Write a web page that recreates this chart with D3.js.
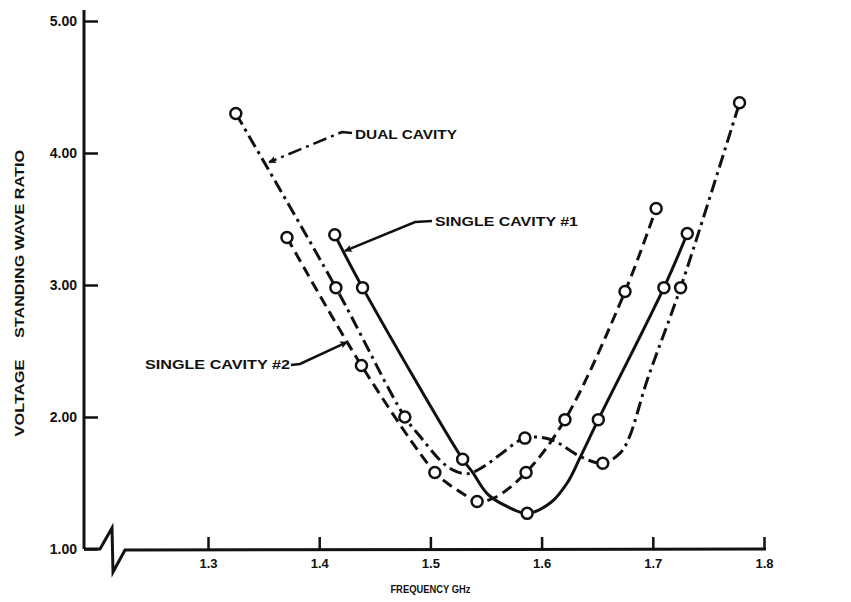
<!DOCTYPE html>
<html>
<head>
<meta charset="UTF-8">
<script src="https://d3js.org/d3.v7.min.js"></script>
<style>
body { margin: 0; background: #fff; }
svg text { font-family: "Liberation Sans", Arial, sans-serif; font-weight: bold; fill: #111; }
</style>
</head>
<body>
<svg id="chart" width="851" height="602"></svg>
<script>
// frequency (GHz) / VSWR. "Line" arrays follow the drawn curve,
// "Mark" arrays are the measured points (open circles).
var dualLineF = [1.325, 1.415, 1.477, 1.491, 1.509, 1.520, 1.533, 1.547, 1.565, 1.585, 1.608, 1.635, 1.655, 1.671, 1.679, 1.695, 1.725, 1.778];
var dualLineV = [4.30, 2.98, 2.00, 1.85, 1.67, 1.60, 1.57, 1.62, 1.73, 1.84, 1.83, 1.70, 1.65, 1.73, 1.85, 2.28, 2.98, 4.38];
var dualMarkF = [1.325, 1.415, 1.477, 1.585, 1.655, 1.725, 1.778];
var dualMarkV = [4.30, 2.98, 2.00, 1.84, 1.65, 2.98, 4.38];

var single1LineF = [1.414, 1.439, 1.529, 1.538, 1.551, 1.567, 1.587, 1.608, 1.623, 1.635, 1.651, 1.710, 1.731];
var single1LineV = [3.38, 2.98, 1.68, 1.58, 1.42, 1.33, 1.27, 1.35, 1.50, 1.70, 1.98, 2.98, 3.39];
var single1MarkF = [1.414, 1.439, 1.529, 1.587, 1.651, 1.710, 1.731];
var single1MarkV = [3.38, 2.98, 1.68, 1.27, 1.98, 2.98, 3.39];

var single2LineF = [1.371, 1.438, 1.504, 1.515, 1.529, 1.542, 1.558, 1.586, 1.621, 1.675, 1.703];
var single2LineV = [3.36, 2.39, 1.58, 1.50, 1.42, 1.36, 1.39, 1.58, 1.98, 2.95, 3.58];
var single2MarkF = [1.371, 1.438, 1.504, 1.542, 1.586, 1.621, 1.675, 1.703];
var single2MarkV = [3.36, 2.39, 1.58, 1.36, 1.58, 1.98, 2.95, 3.58];

var xTicks = [1.3, 1.4, 1.5, 1.6, 1.7, 1.8];
var yTicks = [1, 2, 3, 4, 5];

var svg = d3.select("#chart");
var x0 = 84; // where the vertical axis stands

var x = d3.scaleLinear().domain([1.3, 1.8]).range([208, 764]);
var y = d3.scaleLinear().domain([1, 5]).range([549, 21]);

function zip(f, v) { return f.map(function(d, i) { return [d, v[i]]; }); }

// y axis, ticks pointing inward
var gy = svg.append("g")
	.attr("transform", "translate(" + x0 + ",0)")
	.call(d3.axisLeft(y).tickValues(yTicks).tickSize(-14).tickPadding(7).tickFormat(d3.format(".2f")));
gy.select(".domain").remove();
gy.selectAll(".tick line").attr("stroke", "#111").attr("stroke-width", 2.5);
gy.selectAll(".tick text").attr("font-size", 14).attr("fill", "#111");

var gx = svg.append("g")
	.attr("transform", "translate(0," + y(1) + ")")
	.call(d3.axisBottom(x).tickValues(xTicks).tickSize(-12).tickPadding(10).tickFormat(d3.format(".1f")));
gx.select(".domain").remove();
gx.selectAll(".tick line").attr("stroke", "#111").attr("stroke-width", 2.5);
gx.selectAll(".tick text").attr("font-size", 13).attr("fill", "#111");

// axis lines, x axis with a break near the origin
svg.append("line")
	.attr("x1", x0).attr("x2", x0).attr("y1", 10).attr("y2", y(1))
	.attr("stroke", "#111").attr("stroke-width", 3);
var yb = y(1);
svg.append("path")
	.attr("d", d3.line()([[x0, yb], [x0 + 16, yb], [x0 + 28, yb - 21], [x0 + 29, yb + 23], [x0 + 41, yb + 1], [x(1.8) + 2, yb]]))
	.attr("fill", "none").attr("stroke", "#111").attr("stroke-width", 3).attr("stroke-linejoin", "miter");

// axis titles
svg.append("text").attr("transform", "translate(20,398) rotate(-90)")
	.attr("text-anchor", "middle").attr("dy", "0.35em").attr("font-size", 12)
	.attr("textLength", 77).attr("lengthAdjust", "spacingAndGlyphs").text("VOLTAGE");
svg.append("text").attr("transform", "translate(20,244) rotate(-90)")
	.attr("text-anchor", "middle").attr("dy", "0.35em").attr("font-size", 12)
	.attr("textLength", 188).attr("lengthAdjust", "spacingAndGlyphs").text("STANDING WAVE RATIO");
svg.append("text").attr("x", x(1.5)).attr("y", 589)
	.attr("text-anchor", "middle").attr("dy", "0.35em").attr("font-size", 11)
	.attr("textLength", 80).attr("lengthAdjust", "spacingAndGlyphs").text("FREQUENCY GHz");

// curves
var line = d3.line().x(function(d) { return x(d[0]); }).y(function(d) { return y(d[1]); })
	.curve(d3.curveCatmullRom.alpha(0.5));

var series = [
	{ pts: zip(dualLineF, dualLineV), marks: zip(dualMarkF, dualMarkV), dash: "13,5,3,5" },
	{ pts: zip(single1LineF, single1LineV), marks: zip(single1MarkF, single1MarkV), dash: null },
	{ pts: zip(single2LineF, single2LineV), marks: zip(single2MarkF, single2MarkV), dash: "11,6" }
];

series.forEach(function(s) {
	svg.append("path")
		.attr("d", line(s.pts))
		.attr("fill", "none").attr("stroke", "#111").attr("stroke-width", 3)
		.attr("stroke-dasharray", s.dash);
});
series.forEach(function(s) {
	svg.append("g").selectAll("circle")
		.data(s.marks)
	.enter().append("circle")
		.attr("cx", function(d) { return x(d[0]); })
		.attr("cy", function(d) { return y(d[1]); })
		.attr("r", 5.5)
		.attr("fill", "#fff").attr("stroke", "#111").attr("stroke-width", 2.5);
});

// labels with leader arrows (positions in data units)
svg.append("defs").append("marker")
	.attr("id", "arrow").attr("viewBox", "0 0 10 10").attr("refX", 9).attr("refY", 5)
	.attr("markerWidth", 6.5).attr("markerHeight", 3).attr("orient", "auto")
	.attr("markerUnits", "strokeWidth")
	.append("path").attr("d", "M0,0 L10,5 L0,10 L2,5 z").attr("fill", "#111");

var notes = [
	{ text: "DUAL CAVITY", at: [1.4322, 4.136], len: 102, dash: "14,5,3,5",
	  lead: [[1.4295, 4.152], [1.4205, 4.159], [1.355, 3.93]] },
	{ text: "SINGLE CAVITY #1", at: [1.5041, 3.477], len: 143, dash: null,
	  lead: [[1.5014, 3.485], [1.4862, 3.477], [1.4232, 3.258]] },
	{ text: "SINGLE CAVITY #2", at: [1.2433, 2.394], len: 145, dash: null,
	  lead: [[1.3746, 2.394], [1.3827, 2.402], [1.425, 2.568]] }
];

var lead = d3.line().x(function(d) { return x(d[0]); }).y(function(d) { return y(d[1]); });
notes.forEach(function(n) {
	svg.append("path")
		.attr("d", lead(n.lead))
		.attr("fill", "none").attr("stroke", "#111").attr("stroke-width", 2.5)
		.attr("stroke-dasharray", n.dash)
		.attr("marker-end", "url(#arrow)");
	svg.append("text")
		.attr("x", x(n.at[0])).attr("y", y(n.at[1])).attr("dy", "0.35em")
		.attr("font-size", 12)
		.attr("textLength", n.len).attr("lengthAdjust", "spacingAndGlyphs")
		.text(n.text);
});
</script>
</body>
</html>
